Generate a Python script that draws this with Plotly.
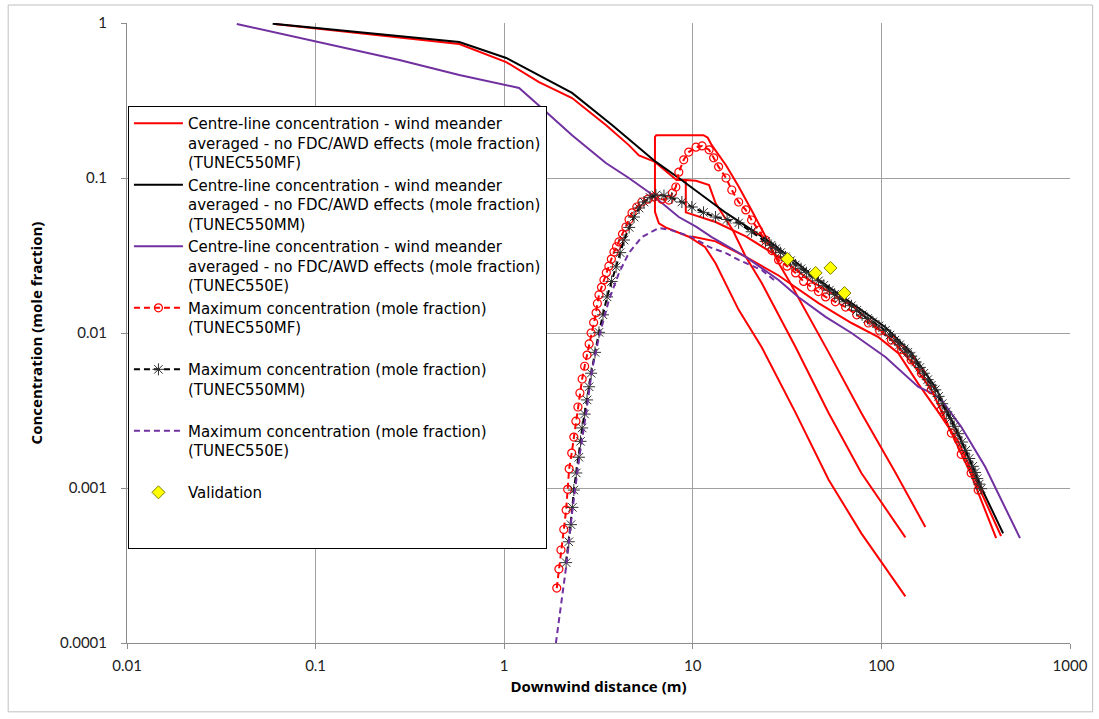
import plotly.graph_objects as go

# ---------------- data ----------------
# Centre-line TUNEC550MF (red) - several branches of one series
MF_A_X = [0.0607, 0.278, 0.578, 1.025, 1.53, 2.29, 3.46, 4.58, 5.18, 6.3, 8.2, 9.2, 10.4, 12.2, 13.2, 16.3, 19.1, 23.2, 35.1, 52.5, 78.3, 134]
MF_A_Y = [0.985, 0.80, 0.732, 0.56, 0.416, 0.328, 0.22, 0.163, 0.14, 0.127, 0.097, 0.097, 0.096, 0.090, 0.069, 0.046, 0.031, 0.021, 0.0081, 0.00305, 0.00125, 0.00048]
MF_B_X = [134, 78.3, 52.5, 35.1, 23.2, 17.5, 13.2, 11.6, 9.52, 7.17, 6.61, 6.3, 6.3, 6.4, 8.43, 11.4, 12.0, 12.6, 15.0, 17.5, 20.5, 24.3, 28.5, 32.2, 52.5, 78.3, 119, 171]
MF_B_Y = [0.0002, 0.00051, 0.00113, 0.00305, 0.0081, 0.0141, 0.0282, 0.0359, 0.0418, 0.048, 0.051, 0.0604, 0.184, 0.189, 0.189, 0.189, 0.182, 0.163, 0.121, 0.088, 0.062, 0.042, 0.0283, 0.022, 0.0075, 0.00305, 0.00125, 0.00056]
MF_C_X = [9.18, 9.18, 13.2, 19.1, 28.5, 42.6, 69.4, 85.4, 113, 144, 184, 235, 299, 406]
MF_C_Y = [0.097, 0.060, 0.052, 0.042, 0.031, 0.0215, 0.0152, 0.0121, 0.0091, 0.0065, 0.0043, 0.0023, 0.00122, 0.000475]
MF_D_X = [9.9, 13.2, 19.1, 28.5, 46.4, 69.4, 96.4, 123, 157, 200, 255, 326, 431]
MF_D_Y = [0.042, 0.039, 0.031, 0.0235, 0.0156, 0.0116, 0.0094, 0.0074, 0.0047, 0.0031, 0.0020, 0.00104, 0.00049]

# Centre-line TUNEC550MM (black)
MM_CL_X = [0.0592, 0.278, 0.578, 1.025, 1.53, 2.29, 3.73, 4.58, 6.37, 8.43, 15.0, 26.2, 46.4, 69.4, 105, 144, 193, 255, 338, 442]
MM_CL_Y = [0.99, 0.824, 0.754, 0.595, 0.462, 0.354, 0.22, 0.178, 0.127, 0.1, 0.0595, 0.038, 0.022, 0.0156, 0.0109, 0.00743, 0.00449, 0.00226, 0.00101, 0.00051]

# Centre-line TUNEC550E (purple)
E_CL_X = [0.0382, 0.278, 0.578, 1.2, 1.67, 2.29, 3.46, 4.58, 5.85, 6.86, 8.43, 10.4, 12.6, 19.1, 28.5, 36.4, 42.6, 50.6, 69.4, 105, 157, 185, 208, 265, 355, 453, 543]
E_CL_Y = [0.985, 0.577, 0.462, 0.381, 0.267, 0.189, 0.125, 0.100, 0.081, 0.069, 0.056, 0.0485, 0.0416, 0.031, 0.022, 0.0170, 0.0147, 0.0127, 0.0100, 0.0070, 0.00449, 0.0041, 0.0037, 0.00248, 0.00137, 0.00075, 0.000475]

# Maximum concentration TUNEC550MF (red dashed, open circles)
MF_MAX_X = [1.90, 1.95, 2.00, 2.07, 2.13, 2.17, 2.21, 2.28, 2.34, 2.40, 2.46, 2.52, 2.59, 2.67, 2.75, 2.82, 2.89, 2.98,
            3.07, 3.12, 3.18, 3.28, 3.38, 3.48, 3.59, 3.70, 3.82, 3.94, 4.06, 4.24, 4.42, 4.59, 4.76, 5.05, 5.37, 5.78,
            6.22, 6.86, 7.47, 7.80, 8.13, 8.43, 8.95, 9.52, 10.4, 11.2, 12.2, 12.9, 13.7, 15.0, 16.1, 17.5, 19.1, 20.5,
            22.3, 24.3, 26.3, 28.5, 31.6, 35.1, 38.7, 42.6, 46.4, 50.6, 57.0, 64.6, 74.0, 85.4, 98.0, 113, 128, 144,
            163, 184, 208, 235, 265, 299, 326]
MF_MAX_Y = [0.000226, 0.00030, 0.000398, 0.00054, 0.00072, 0.00098, 0.00133, 0.00168, 0.00213, 0.0027, 0.00333, 0.0041,
            0.00505, 0.0061, 0.0072, 0.0085, 0.0100, 0.0117, 0.0135, 0.0155, 0.0176, 0.0197, 0.022, 0.0245, 0.027, 0.030,
            0.0333, 0.036, 0.0387, 0.0435, 0.0483, 0.054, 0.0595, 0.065, 0.070, 0.073, 0.0754, 0.073, 0.072, 0.080, 0.0875,
            0.109, 0.131, 0.147, 0.158, 0.161, 0.152, 0.135, 0.118, 0.100, 0.0837, 0.070, 0.0622, 0.0536, 0.046, 0.0398,
            0.034, 0.0296, 0.027, 0.0244, 0.0215, 0.0198, 0.0185, 0.0171, 0.0159, 0.0147, 0.0131, 0.0116, 0.0103, 0.0090,
            0.0078, 0.0067, 0.0055, 0.0043, 0.0032, 0.00226, 0.00165, 0.00125, 0.00097]

# Maximum concentration TUNEC550MM (black dashed, asterisks)
MM_MAX_X = [2.13, 2.20, 2.26, 2.30, 2.34, 2.41, 2.49, 2.54, 2.59, 2.67, 2.75, 2.82, 2.89, 3.03, 3.18, 3.34, 3.51, 3.71,
            3.92, 4.12, 4.32, 4.60, 4.88, 5.19, 5.51, 5.93, 6.37, 7.03, 7.74, 8.75, 9.88, 11.4, 13.2, 15.2, 17.5, 20.5,
            24.3, 26.0, 27.5, 29.2, 31.0, 33.0, 35.0, 37.5, 40.0, 43.0, 46.4, 49.5, 53.0, 56.5, 60.0, 64.5, 69.4, 74.0,
            79.0, 84.5, 90.0, 97.0, 105, 111, 118, 125, 132, 138, 144, 152, 160, 168, 176, 184, 193, 201, 210, 221, 232,
            243, 255, 267, 280, 292, 305, 314, 322, 330, 338]
MM_MAX_Y = [0.00033, 0.00045, 0.00058, 0.00075, 0.00097, 0.00125, 0.00158, 0.0020, 0.00244, 0.0030, 0.0037, 0.0045,
            0.0055, 0.0075, 0.0101, 0.0131, 0.0171, 0.0215, 0.0267, 0.033, 0.0398, 0.048, 0.056, 0.064, 0.070, 0.075,
            0.0777, 0.077, 0.0743, 0.070, 0.065, 0.060, 0.056, 0.054, 0.0513, 0.045, 0.039, 0.0368, 0.035, 0.0330, 0.031,
            0.0293, 0.0275, 0.0260, 0.0245, 0.0230, 0.0217, 0.0203, 0.0189, 0.0178, 0.0168, 0.0159, 0.0150, 0.0140,
            0.0131, 0.0124, 0.0118, 0.0111, 0.0104, 0.0097, 0.0090, 0.0084, 0.0079, 0.0075, 0.0071, 0.0065, 0.0060,
            0.0055, 0.0050, 0.0046, 0.0043, 0.0039, 0.0035, 0.0031, 0.0028, 0.0025, 0.00224, 0.00198, 0.00175, 0.00155,
            0.00138, 0.00126, 0.00115, 0.00106, 0.00099]

# Maximum concentration TUNEC550E (purple dashed)
E_MAX_X = [1.88, 2.13, 2.29, 2.49, 2.72, 2.92, 3.18, 3.59, 4.06, 4.58, 5.37, 6.61, 7.74, 9.88, 12.2, 15.0, 17.5, 23.2, 27.8]
E_MAX_Y = [0.0001, 0.00031, 0.00069, 0.00152, 0.00305, 0.00577, 0.0094, 0.0163, 0.0244, 0.0328, 0.0416, 0.0476, 0.046, 0.0416, 0.0359, 0.0328, 0.0296, 0.0255, 0.0213]

# Validation points
VAL_X = [31.8, 44.8, 53.7, 63.7]
VAL_Y = [0.030, 0.0244, 0.0263, 0.0181]

NAME_CL = "Centre-line concentration - wind meander<br>averaged - no FDC/AWD effects (mole fraction)<br>"
NAMES = [NAME_CL + "(TUNEC550MF)", NAME_CL + "(TUNEC550MM)", NAME_CL + "(TUNEC550E)",
         "Maximum concentration (mole fraction)<br>(TUNEC550MF)<br>&nbsp;",
         "Maximum concentration (mole fraction)<br>(TUNEC550MM)<br>&nbsp;",
         "Maximum concentration (mole fraction)<br>(TUNEC550E)<br>&nbsp;",
         "Validation<br>&nbsp;<br>&nbsp;"]

X_TICKS = [0.01, 0.1, 1, 10, 100, 1000]
X_TICKTEXT = ["0.01", "0.1", "1", "10", "100", "1000"]
Y_TICKS = [0.0001, 0.001, 0.01, 0.1, 1]
Y_TICKTEXT = ["0.0001", "0.001", "0.01", "0.1", "1"]

RED = "#ff0000"
PURPLE = "#7030a0"
BLACK = "#000000"

# ---------------- figure ----------------
mf_x = MF_A_X + [None] + MF_B_X + [None] + MF_C_X + [None] + MF_D_X
mf_y = MF_A_Y + [None] + MF_B_Y + [None] + MF_C_Y + [None] + MF_D_Y

fig = go.Figure()
fig.add_trace(go.Scatter(x=mf_x, y=mf_y, mode="lines", name=NAMES[0], connectgaps=False,
                         line=dict(color=RED, width=2)))
fig.add_trace(go.Scatter(x=MM_CL_X, y=MM_CL_Y, mode="lines", name=NAMES[1],
                         line=dict(color=BLACK, width=2)))
fig.add_trace(go.Scatter(x=E_CL_X, y=E_CL_Y, mode="lines", name=NAMES[2],
                         line=dict(color=PURPLE, width=2)))
fig.add_trace(go.Scatter(x=MF_MAX_X, y=MF_MAX_Y, mode="lines+markers", name=NAMES[3],
                         line=dict(color=RED, width=2, dash="6px,4px"),
                         marker=dict(symbol="circle-open", size=8, color=RED, line=dict(width=1.2, color=RED))))
fig.add_trace(go.Scatter(x=MM_MAX_X, y=MM_MAX_Y, mode="lines+markers", name=NAMES[4],
                         line=dict(color=BLACK, width=2, dash="6px,4px"),
                         marker=dict(symbol="asterisk-open", size=10, color="#303030", line=dict(width=1, color="#303030"))))
fig.add_trace(go.Scatter(x=E_MAX_X, y=E_MAX_Y, mode="lines", name=NAMES[5],
                         line=dict(color=PURPLE, width=2, dash="6px,4px")))
fig.add_trace(go.Scatter(x=VAL_X, y=VAL_Y, mode="markers", name=NAMES[6],
                         marker=dict(symbol="diamond", size=10, color="#ffff00", line=dict(width=1, color="#7f7f00"))))

axis_font = dict(family="Lato", size=15, color="#222222")
title_font = dict(family="Open Sans", size=15, color="#000")
fig.update_xaxes(type="log", range=[-2, 3], tickvals=X_TICKS, ticktext=X_TICKTEXT,
                 showgrid=True, gridcolor="#a0a0a0", gridwidth=1,
                 showline=True, linecolor="#8c8c8c", linewidth=1, mirror=False,
                 ticks="outside", ticklen=5, tickcolor="#8c8c8c", tickfont=axis_font,
                 ticklabelstandoff=4, zeroline=False, automargin=False,
                 title=dict(text="<b>Downwind distance (m)</b>", font=title_font, standoff=8))
fig.update_yaxes(type="log", range=[-4, 0], tickvals=Y_TICKS, ticktext=Y_TICKTEXT,
                 showgrid=True, gridcolor="#a0a0a0", gridwidth=1,
                 showline=True, linecolor="#8c8c8c", linewidth=1, mirror=False,
                 ticks="outside", ticklen=5, tickcolor="#8c8c8c", tickfont=axis_font,
                 ticklabelstandoff=11, zeroline=False, automargin=False,
                 title=dict(text="<b>Concentration (mole fraction)</b>", font=title_font, standoff=13))

fig.update_layout(
    width=1099, height=719,
    margin=dict(l=127, r=29, t=23, b=76, pad=0),
    paper_bgcolor="white", plot_bgcolor="white",
    font=dict(family="Lato", size=14, color="#000"),
    legend=dict(x=0.001, y=0.866, xanchor="left", yanchor="top",
                bgcolor="white", bordercolor="#000000", borderwidth=1,
                font=dict(family="DejaVu Sans", size=15, color="#000"),
                valign="top", tracegroupgap=0, itemwidth=49),
    shapes=[dict(type="rect", xref="paper", yref="paper",
                 x0=-0.126, x1=1.024, y0=-0.111, y1=1.029,
                 line=dict(color="#bfbfbf", width=1), fillcolor="rgba(0,0,0,0)", layer="below")],
)

fig.write_html("out.html")
